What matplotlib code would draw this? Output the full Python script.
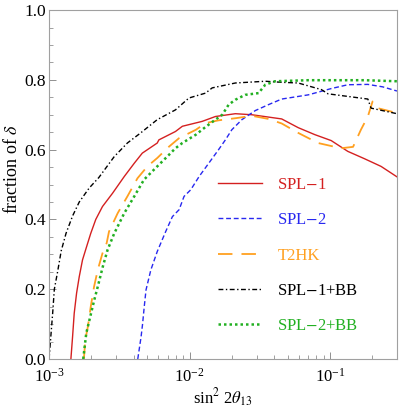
import matplotlib
matplotlib.use("Agg")
import matplotlib.pyplot as plt
from matplotlib.ticker import LogLocator, MultipleLocator, NullFormatter
import numpy as np

plt.rcParams['font.family'] = ['Liberation Serif', 'DejaVu Serif']
plt.rcParams['mathtext.fontset'] = 'stix'

# SPL-1 (solid red)
spl1_x = [1.43e-3, 1.47e-3, 1.51e-3, 1.57e-3, 1.64e-3, 1.73e-3, 1.85e-3, 1.98e-3, 2.15e-3,
          2.40e-3, 2.83e-3, 3.43e-3, 4.04e-3, 4.61e-3, 5.89e-3, 6.05e-3, 7.94e-3, 8.89e-3,
          1.23e-2, 1.53e-2, 2.12e-2, 2.78e-2, 4.53e-2, 5.94e-2, 7.80e-2, 0.102, 0.134,
          0.176, 0.231, 0.30]
spl1_y = [0.0, 0.064, 0.131, 0.189, 0.236, 0.284, 0.322, 0.36, 0.40,
          0.437, 0.475, 0.523, 0.561, 0.59, 0.619, 0.628, 0.652, 0.667,
          0.681, 0.695, 0.703, 0.700, 0.688, 0.663, 0.643, 0.626, 0.595,
          0.574, 0.552, 0.522]

# SPL-2 (short dashed blue)
spl2_x = [4.28e-3, 4.52e-3, 4.63e-3, 4.76e-3, 4.90e-3, 5.30e-3, 5.89e-3, 6.76e-3, 7.55e-3,
          8.43e-3, 9.14e-3, 1.02e-2, 1.17e-2, 1.37e-2, 1.61e-2, 1.80e-2, 2.00e-2, 2.36e-2,
          2.94e-2, 3.65e-2, 4.53e-2, 7.00e-2, 0.102, 0.134, 0.186, 0.237, 0.30]
spl2_y = [0.0, 0.064, 0.10, 0.15, 0.198, 0.255, 0.308, 0.365, 0.408,
          0.428, 0.466, 0.485, 0.523, 0.561, 0.600, 0.628, 0.657, 0.686,
          0.712, 0.729, 0.745, 0.757, 0.775, 0.786, 0.787, 0.780, 0.768]

# T2HK (long dashed orange)
t2hk_x = [1.77e-3, 1.81e-3, 1.89e-3, 1.98e-3, 2.09e-3, 2.22e-3, 2.40e-3, 2.57e-3, 2.67e-3,
          3.08e-3, 3.61e-3, 4.26e-3, 5.01e-3, 5.89e-3, 7.16e-3, 8.43e-3, 1.11e-2, 1.30e-2,
          1.61e-2, 2.12e-2, 2.78e-2, 3.65e-2, 4.53e-2, 5.94e-2, 8.22e-2, 0.120, 0.146,
          0.166, 0.186, 0.201, 0.218, 0.30]
t2hk_y = [0.0, 0.055, 0.093, 0.15, 0.207, 0.255, 0.303, 0.332, 0.365,
          0.418, 0.466, 0.518, 0.552, 0.576, 0.609, 0.633, 0.657, 0.676,
          0.684, 0.690, 0.697, 0.688, 0.675, 0.648, 0.619, 0.604, 0.608,
          0.657, 0.695, 0.738, 0.719, 0.705]

# SPL-1+BB (dash-dot black)
spl1bb_x = [1.0e-3, 1.03e-3, 1.06e-3, 1.09e-3, 1.15e-3, 1.22e-3, 1.32e-3, 1.47e-3, 1.64e-3,
            1.93e-3, 2.26e-3, 2.91e-3, 3.61e-3, 4.49e-3, 5.89e-3, 7.94e-3, 9.9e-3, 1.30e-2,
            1.45e-2, 2.12e-2, 3.46e-2, 4.53e-2, 5.94e-2, 8.69e-2, 9.68e-2, 0.186, 0.196, 0.30]
spl1bb_y = [0.0, 0.067, 0.13, 0.2, 0.25, 0.31, 0.36, 0.41, 0.45,
            0.49, 0.52, 0.58, 0.619, 0.648, 0.686, 0.714, 0.748, 0.762,
            0.777, 0.791, 0.796, 0.793, 0.791, 0.772, 0.760, 0.745, 0.719, 0.703]

# SPL-2+BB (dotted green)
spl2bb_x = [1.75e-3, 1.84e-3, 1.99e-3, 2.10e-3, 2.22e-3, 2.41e-3, 2.61e-3, 2.91e-3, 3.43e-3,
            4.04e-3, 4.74e-3, 5.89e-3, 6.93e-3, 7.94e-3, 8.89e-3, 1.11e-2, 1.30e-2, 1.53e-2,
            1.71e-2, 1.90e-2, 2.12e-2, 2.49e-2, 3.10e-2, 3.46e-2, 4.06e-2, 7.00e-2, 0.176, 0.30]
spl2bb_y = [0.0, 0.074, 0.131, 0.17, 0.207, 0.264, 0.313, 0.36, 0.418,
            0.466, 0.514, 0.552, 0.58, 0.604, 0.619, 0.643, 0.665, 0.686,
            0.700, 0.729, 0.743, 0.757, 0.762, 0.786, 0.796, 0.799, 0.799, 0.796]

fig = plt.figure(figsize=(3.99, 4.11), dpi=100)
ax = fig.add_axes([0.123, 0.1265, 0.872, 0.849])

ax.plot(spl1_x, spl1_y, color='#d42020', lw=1.0, label='SPL$-$1')
ax.plot(spl2_x, spl2_y, color='#2828f0', lw=1.0, dashes=(3.5, 2), label='SPL$-$2')
ax.plot(t2hk_x, t2hk_y, color='#ffa020', lw=1.3, dashes=(8, 5), label='T2HK')
ax.plot(spl1bb_x, spl1bb_y, color='black', lw=1.0, dashes=(3.5, 1.8, 1, 1.8), label='SPL$-$1+BB')
ax.plot(spl2bb_x, spl2bb_y, color='#22b022', lw=1.8, dashes=(1, 1.2), label='SPL$-$2+BB')

ax.set_xscale('log')
ax.set_xlim(1e-3, 0.3)
ax.set_ylim(0, 1.0)
ax.yaxis.set_minor_locator(MultipleLocator(0.05))
ax.xaxis.set_major_locator(LogLocator(base=10))
ax.xaxis.set_minor_locator(LogLocator(base=10, subs=np.arange(2, 10)))
ax.xaxis.set_minor_formatter(NullFormatter())
ax.set_yticks([0, 0.2, 0.4, 0.6, 0.8, 1.0])
ax.set_yticklabels(['0.0', '0.2', '0.4', '0.6', '0.8', '1.0'])

for s in ax.spines.values():
    s.set_color('#a0a0a0')
    s.set_linewidth(0.8)
ax.tick_params(which='both', direction='in', top=False, right=False, color='#909090')
ax.tick_params(which='major', length=5, width=0.7)
ax.tick_params(which='minor', length=3, width=0.6)
ax.tick_params(axis='y', labelsize=12.5, pad=2.5)
ax.tick_params(axis='x', labelsize=12, pad=6.5)

ax.set_xlabel(r'sin$^2$ 2$\theta_{13}$', fontsize=12)
ax.xaxis.set_label_coords(0.5, -0.078)
ax.set_ylabel(r'fraction of $\delta$', fontsize=13)
ax.yaxis.set_label_coords(-0.082, 0.545)

ax.legend(loc='upper left', bbox_to_anchor=(0.486, 0.522), frameon=False, fontsize=12,
          handlelength=2.65, handletextpad=0.9, labelspacing=1.16, borderpad=0,
          borderaxespad=0, labelcolor='linecolor')

fig.savefig('out.png', dpi=100)
